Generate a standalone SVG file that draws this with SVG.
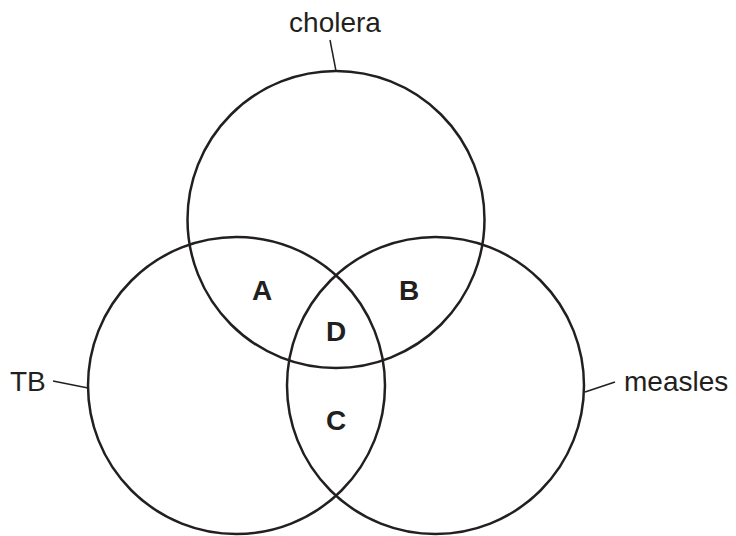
<svg xmlns="http://www.w3.org/2000/svg" width="736" height="536" viewBox="0 0 736 536">
<style>
.c{fill:none;stroke:#231f20;stroke-width:2.5}
.l{stroke:#231f20;stroke-width:1.5}
.t{font-family:"Liberation Sans",Arial,sans-serif;font-size:28px;fill:#231f20}
.b{font-family:"Liberation Sans",Arial,sans-serif;font-size:28px;font-weight:bold;fill:#231f20;text-anchor:middle}
</style>
<rect width="736" height="536" fill="#fff"/>
<g id="cholera"><circle class="c" cx="336" cy="219.5" r="148.5"/><text class="t" x="335" y="32" text-anchor="middle">cholera</text></g>
<g id="tb"><circle class="c" cx="236.5" cy="385.5" r="148.5"/><text class="t" x="10" y="391">TB</text></g>
<g id="measles"><circle class="c" cx="435.5" cy="385.5" r="148.5"/><text class="t" x="624" y="391">measles</text></g>
<g id="connectors">
<line class="l" x1="330" y1="40" x2="336" y2="71"/>
<line class="l" x1="53" y1="381" x2="88" y2="388"/>
<line class="l" x1="585" y1="392" x2="615" y2="382"/>
</g>
<g id="A"><text class="b" x="262" y="300">A</text></g>
<g id="B"><text class="b" x="409" y="300">B</text></g>
<g id="D"><text class="b" x="336" y="341">D</text></g>
<g id="C"><text class="b" x="336" y="430">C</text></g>
</svg>
